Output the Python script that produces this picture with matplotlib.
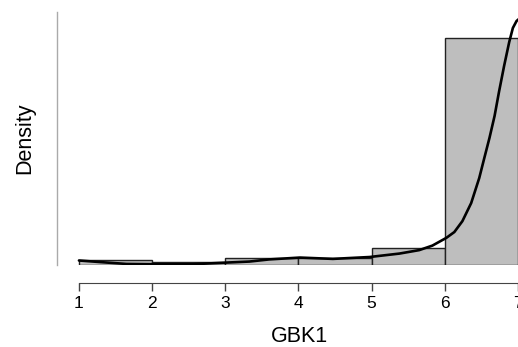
import matplotlib.pyplot as plt
import numpy as np

plt.rcParams['font.family'] = ['Liberation Sans', 'DejaVu Sans']

# histogram (density, bin width 1)
bin_edges = [1, 2, 3, 4, 5, 6, 7]
bin_density = [0.019, 0.010, 0.026, 0.026, 0.064, 0.854]

# density curve
curve_x = [1.0, 1.29, 1.65, 2.01, 2.56, 3.01, 3.33, 3.60, 4.02, 4.47, 4.97,
           5.38, 5.65, 5.83, 6.02, 6.13, 6.24, 6.36, 6.47, 6.54, 6.61, 6.68,
           6.74, 6.81, 6.88, 6.93, 6.98, 7.03]
curve_y = [0.017, 0.011, 0.004, 0.003, 0.003, 0.009, 0.013, 0.021, 0.028,
           0.023, 0.030, 0.043, 0.056, 0.073, 0.102, 0.124, 0.165, 0.233,
           0.327, 0.403, 0.478, 0.561, 0.651, 0.749, 0.839, 0.892, 0.918, 0.93]

fig = plt.figure(figsize=(5.18, 3.47), dpi=100)
W, H = 518, 347
ax = fig.add_axes([57 / W, 1 - 265 / H, (518 - 57) / W, (265 - 12) / H])

lefts = np.array(bin_edges[:-1])
widths = np.diff(bin_edges)
ax.bar(lefts, bin_density, width=widths, align='edge', color='#bebebe',
       edgecolor='#222222', linewidth=1.0, zorder=2)
ax.plot(curve_x, curve_y, color='black', linewidth=1.9, zorder=3,
        solid_capstyle='round', solid_joinstyle='round')

ax.set_xlim(0.70, 6.99)
ax.set_ylim(0, 0.952)

for s in ['top', 'right']:
    ax.spines[s].set_visible(False)
ax.spines['left'].set_color('#aaaaaa')
ax.spines['left'].set_linewidth(1.0)
ax.set_yticks([])

ax.spines['bottom'].set_position(('outward', 13))
ax.spines['bottom'].set_bounds(1, 7)
ax.spines['bottom'].set_color('#444444')
ax.set_xticks([1, 2, 3, 4, 5, 6, 7])
ax.tick_params(axis='x', length=6, width=1, colors='#444444', labelsize=12.5,
               labelcolor='black', pad=3)
for lbl in ax.get_xticklabels():
    lbl.set_clip_on(False)

fig.text(299 / W, 1 - 337 / H, 'GBK1', fontsize=15.5, ha='center', va='center')
fig.text(25 / W, 1 - 138 / H, 'Density', rotation=90, fontsize=15.5,
         ha='center', va='center')

fig.savefig('out.png', dpi=100)
